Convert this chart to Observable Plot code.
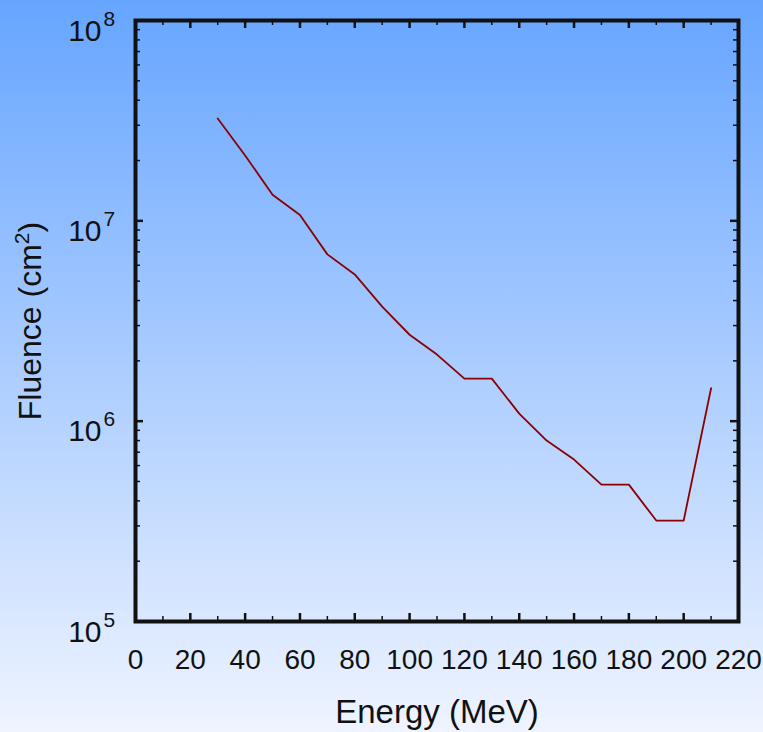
<!DOCTYPE html>
<html>
<head>
<meta charset="utf-8">
<script src="https://cdn.jsdelivr.net/npm/d3@7"></script>
<script src="https://cdn.jsdelivr.net/npm/@observablehq/plot@0.6"></script>
<style>
  html, body { margin: 0; padding: 0; }
  body { width: 763px; height: 732px; background: linear-gradient(#66a5ff, #eff4ff); }
  #chart svg { display: block; }
</style>
</head>
<body>
<div id="chart"></div>
<script>
// Proton energy (MeV) and fluence (cm^-2) spectrum
const energy = [30, 40, 50, 60, 70, 80, 90, 100, 110, 120, 130, 140, 150, 160, 170, 180, 190, 200, 210];
const fluence = [3.24e7, 2.12e7, 1.35e7, 1.07e7, 6.8e6, 5.4e6, 3.73e6, 2.7e6, 2.15e6, 1.63e6, 1.63e6,
                 1.09e6, 8.0e5, 6.43e5, 4.82e5, 4.82e5, 3.19e5, 3.19e5, 1.46e6];

// Axis ticks
const xMajor = [0, 20, 40, 60, 80, 100, 120, 140, 160, 180, 200, 220];
const xMinor = [10, 30, 50, 70, 90, 110, 130, 150, 170, 190, 210];
const yMajor = [1e5, 1e6, 1e7, 1e8];
const yExponents = ["5", "6", "7", "8"];
const yMinor = [1e5, 1e6, 1e7].flatMap(p => [2, 3, 4, 5, 6, 7, 8, 9].map(m => m * p));

const xTitle = "Energy (MeV)";
const yTitle = "Fluence (cm2)";
const yTitleParts = ["Fluence (cm", "2", ")"]; // base, superscript, tail

const data = energy.map((e, i) => ({energy: e, fluence: fluence[i]}));

const W = 763, H = 732;
const mL = 135, mR = 25, mT = 20, mB = 111;
const plotW = W - mL - mR, plotH = H - mT - mB;
const ink = "#111";

const chart = Plot.plot({
  width: W,
  height: H,
  marginLeft: mL,
  marginRight: mR,
  marginTop: mT,
  marginBottom: mB,
  style: {
    background: "linear-gradient(#66a5ff, #eff4ff)",
    fontFamily: "'Liberation Sans', Arial, sans-serif",
    color: ink
  },
  x: {domain: [0, 220], axis: null},
  y: {type: "log", domain: [1e5, 1e8], axis: null},
  marks: [
    // inward ticks along the bottom and top edges
    Plot.tickX(xMajor, {x: d => d, insetTop: plotH - 8, stroke: ink, strokeWidth: 2.5}),
    Plot.tickX(xMinor, {x: d => d, insetTop: plotH - 5, stroke: ink, strokeWidth: 1.5}),
    Plot.tickX(xMajor, {x: d => d, insetBottom: plotH - 8, stroke: ink, strokeWidth: 2.5}),
    Plot.tickX(xMinor, {x: d => d, insetBottom: plotH - 5, stroke: ink, strokeWidth: 1.5}),
    // inward ticks along the left and right edges
    Plot.tickY(yMajor, {y: d => d, insetRight: plotW - 8, stroke: ink, strokeWidth: 2.5}),
    Plot.tickY(yMinor, {y: d => d, insetRight: plotW - 5, stroke: ink, strokeWidth: 1.5}),
    Plot.tickY(yMajor, {y: d => d, insetLeft: plotW - 8, stroke: ink, strokeWidth: 2.5}),
    Plot.tickY(yMinor, {y: d => d, insetLeft: plotW - 5, stroke: ink, strokeWidth: 1.5}),
    // fluence curve
    Plot.line(data, {x: "energy", y: "fluence", stroke: "#8b0000", strokeWidth: 1.8}),
    Plot.frame({stroke: ink, strokeWidth: 4}),
    // x tick labels
    Plot.text(xMajor, {x: d => d, text: d => String(d), frameAnchor: "bottom", lineAnchor: "top",
      dy: 28, fontSize: 28, fill: ink}),
    // y tick labels: base and exponent
    Plot.text(yMajor, {y: d => d, text: () => "10", frameAnchor: "left", textAnchor: "end",
      lineAnchor: "bottom", dx: -34, dy: 20, fontSize: 30, fill: ink}),
    Plot.text(yMajor, {y: d => d, text: (d, i) => yExponents[i], frameAnchor: "left", textAnchor: "start",
      lineAnchor: "bottom", dx: -32, dy: 5, fontSize: 21, fill: ink}),
    // axis titles
    Plot.text([xTitle], {text: d => d, frameAnchor: "bottom", lineAnchor: "bottom", dy: 101,
      fontSize: 33, fill: ink}),
    Plot.text([yTitle], {text: d => d, frameAnchor: "left", textAnchor: "middle", rotate: -90, dx: -105,
      fontSize: 32, fill: ink})
  ]
});

// Typeset the unit exponent of the y title as a superscript
d3.select(chart).selectAll("text")
  .filter(function () { return this.textContent === yTitle; })
  .each(function () {
    const t = d3.select(this).text(null);
    t.append("tspan").text(yTitleParts[0]);
    t.append("tspan").attr("font-size", 21).attr("dy", "-0.55em").text(yTitleParts[1]);
    t.append("tspan").attr("dy", "0.36em").text(yTitleParts[2]);
  });

document.getElementById("chart").append(chart);
</script>
</body>
</html>
